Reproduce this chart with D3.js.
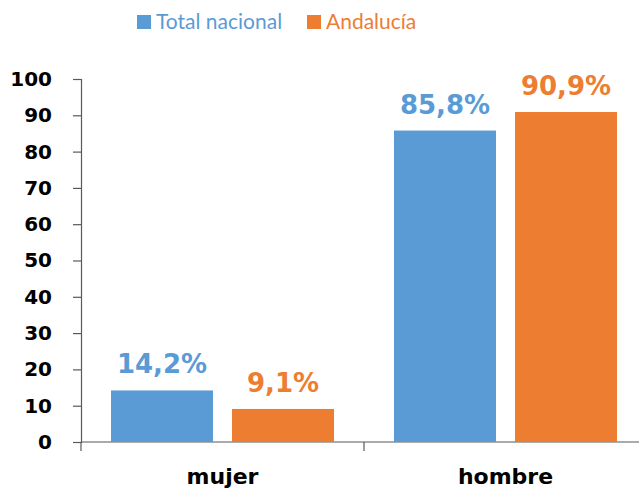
<!DOCTYPE html>
<html>
<head>
<meta charset="utf-8">
<script src="https://cdn.jsdelivr.net/npm/d3@7"></script>
<style>
  body { margin: 0; background: #fff; }
  svg { display: block; }
</style>
</head>
<body>
<svg id="chart"></svg>
<script>
// data
const categories = ["mujer", "hombre"];
const seriesNames = ["Total nacional", "Andalucía"];
const totalNacional = [14.2, 85.8];
const andalucia = [9.1, 90.9];
const yTicks = [0, 10, 20, 30, 40, 50, 60, 70, 80, 90, 100];

const colors = ["#5B9BD5", "#ED7D31"];
const width = 639, height = 488;
const margin = { top: 79, right: -8, bottom: 46, left: 81 };

const svg = d3.select("#chart").attr("width", width).attr("height", height);

const rows = categories.map((c, i) => ({
  cat: c,
  vals: [totalNacional[i], andalucia[i]]
}));

const x = d3.scaleBand()
  .domain(categories)
  .range([margin.left, width - margin.right]);

const inner = d3.scaleBand()
  .domain([0, 1])
  .range([0, x.bandwidth()])
  .paddingInner(0.157)
  .paddingOuter(0.248);

const y = d3.scaleLinear()
  .domain([0, 100])
  .range([height - margin.bottom, margin.top]);

// y axis
const yAxis = svg.append("g")
  .attr("transform", "translate(" + margin.left + ",0)")
  .call(d3.axisLeft(y).tickValues(yTicks).tickSize(8).tickPadding(21));
yAxis.select(".domain").attr("stroke", "#595959").attr("stroke-width", 1.2);
yAxis.selectAll(".tick line").attr("stroke", "#595959").attr("stroke-width", 1.2);
yAxis.selectAll("text")
  .attr("font-family", "DejaVu Sans")
  .attr("font-weight", "bold")
  .attr("font-size", 20)
  .attr("fill", "#000");

// x axis line + ticks at category borders
const baseY = y(0);
svg.append("line")
  .attr("x1", margin.left).attr("x2", width)
  .attr("y1", baseY).attr("y2", baseY)
  .attr("stroke", "#595959").attr("stroke-width", 1.2);

svg.selectAll(".xtick")
  .data(categories)
  .enter().append("line")
  .attr("class", "xtick")
  .attr("x1", d => x(d)).attr("x2", d => x(d))
  .attr("y1", baseY).attr("y2", baseY + 9)
  .attr("stroke", "#595959").attr("stroke-width", 1.2);

svg.selectAll(".xlabel")
  .data(categories)
  .enter().append("text")
  .attr("class", "xlabel")
  .attr("x", d => x(d) + x.bandwidth() / 2)
  .attr("y", 484)
  .attr("text-anchor", "middle")
  .attr("font-family", "DejaVu Sans")
  .attr("font-weight", "bold")
  .attr("font-size", 22)
  .text(d => d);

// bars
const groups = svg.selectAll(".grp")
  .data(rows)
  .enter().append("g")
  .attr("class", "grp")
  .attr("transform", d => "translate(" + x(d.cat) + ",0)");

groups.selectAll("rect")
  .data(d => d.vals)
  .enter().append("rect")
  .attr("x", (d, i) => inner(i))
  .attr("width", inner.bandwidth())
  .attr("y", d => y(d))
  .attr("height", d => y(0) - y(d))
  .attr("fill", (d, i) => colors[i]);

groups.selectAll(".lbl")
  .data(d => d.vals)
  .enter().append("text")
  .attr("class", "lbl")
  .attr("x", (d, i) => inner(i) + inner.bandwidth() / 2)
  .attr("y", d => y(d) - 17)
  .attr("text-anchor", "middle")
  .attr("font-family", "DejaVu Sans")
  .attr("font-weight", "bold")
  .attr("font-size", 26)
  .attr("fill", (d, i) => colors[i])
  .text(d => d.toFixed(1).replace(".", ",") + "%");

// legend
const legendX = [137, 307];
const legend = svg.append("g");
seriesNames.forEach((name, i) => {
  legend.append("rect")
    .attr("x", legendX[i]).attr("y", 15)
    .attr("width", 14).attr("height", 14)
    .attr("fill", colors[i]);
  legend.append("text")
    .attr("x", legendX[i] + 19).attr("y", 29)
    .attr("font-family", "Lato")
    .attr("font-size", 21)
    .attr("fill", colors[i])
    .text(name);
});
</script>
</body>
</html>
